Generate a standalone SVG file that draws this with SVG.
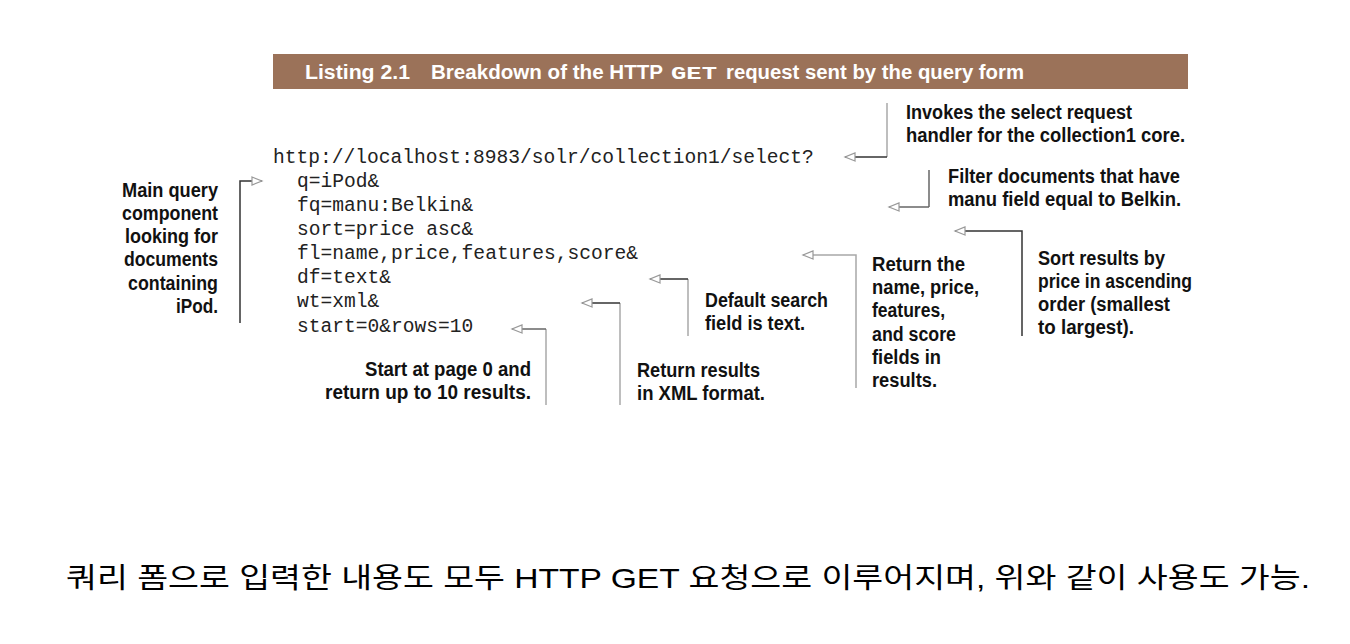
<svg xmlns="http://www.w3.org/2000/svg" width="1350" height="644" viewBox="0 0 1350 644">
<defs>
<style>
.code{font-family:"Liberation Mono","Courier New",monospace;font-size:19.6px;fill:#222;}
.lbl{font-family:"Liberation Sans",Arial,sans-serif;font-weight:bold;font-size:20px;fill:#111;}
.hdr{font-family:"Liberation Sans",Arial,sans-serif;font-weight:bold;font-size:20px;fill:#fff;}
.hdrm{font-family:"Liberation Mono","Courier New",monospace;font-weight:bold;font-size:19px;fill:#fff;}
.dk{stroke:#333;stroke-width:1.5;fill:none;}
.lt{stroke:#a8a8a8;stroke-width:1.5;fill:none;}
.md{stroke:#666;stroke-width:1.5;fill:none;}
.cap{font-family:"Liberation Sans","Noto Sans CJK KR",sans-serif;font-size:28px;fill:#000;}
</style>
<marker id="ah" markerUnits="userSpaceOnUse" markerWidth="14" markerHeight="12" refX="11" refY="5" orient="auto" viewBox="0 0 14 12">
<path d="M1,1 L11,5 L1,9 Z" fill="#fff" stroke="#999" stroke-width="1.2"/>
</marker>
</defs>
<rect width="1350" height="644" fill="#fff"/>

<g id="header">
<rect x="273" y="54" width="915" height="35" fill="#9b7259"/>
<text class="hdr" x="305" y="79" textLength="105" lengthAdjust="spacingAndGlyphs">Listing 2.1</text>
<text class="hdr" x="431" y="79" textLength="232" lengthAdjust="spacingAndGlyphs">Breakdown of the HTTP</text>
<text class="hdrm" x="671" y="79" textLength="46" lengthAdjust="spacingAndGlyphs">GET</text>
<text class="hdr" x="726" y="79" textLength="298" lengthAdjust="spacingAndGlyphs">request sent by the query form</text>
</g>

<g id="code">
<text class="code" x="273" y="163">http://localhost:8983/solr/collection1/select?</text>
<text class="code" x="297" y="187">q=iPod&amp;</text>
<text class="code" x="297" y="211">fq=manu:Belkin&amp;</text>
<text class="code" x="297" y="235">sort=price asc&amp;</text>
<text class="code" x="297" y="259">fl=name,price,features,score&amp;</text>
<text class="code" x="297" y="283">df=text&amp;</text>
<text class="code" x="297" y="307">wt=xml&amp;</text>
<text class="code" x="297" y="332">start=0&amp;rows=10</text>
</g>

<g id="connectors">
<!-- main query -->
<path class="dk" d="M240,323 V181 H262" marker-end="url(#ah)"/>
<!-- invokes -->
<path class="lt" d="M887,103 V157"/>
<path class="dk" d="M887,157 H845" marker-end="url(#ah)"/>
<!-- filter -->
<path class="md" d="M929,170 V207"/>
<path class="md" d="M929,207 H889" marker-end="url(#ah)"/>
<!-- sort -->
<path class="dk" d="M1022,336 V231 H955" marker-end="url(#ah)"/>
<!-- fl -->
<path class="lt" d="M856,388 V255 H803" marker-end="url(#ah)"/>
<!-- df -->
<path class="lt" d="M688,336 V279"/>
<path class="dk" d="M688,279 H650" marker-end="url(#ah)"/>
<!-- wt -->
<path class="lt" d="M620,405 V303"/>
<path class="dk" d="M620,303 H582" marker-end="url(#ah)"/>
<!-- start -->
<path class="lt" d="M546,405 V329"/>
<path class="md" d="M546,329 H512" marker-end="url(#ah)"/>
</g>

<g id="n-invokes">
<text class="lbl" x="906" y="119" textLength="226" lengthAdjust="spacingAndGlyphs">Invokes the select request</text>
<text class="lbl" x="906" y="142" textLength="279" lengthAdjust="spacingAndGlyphs">handler for the collection1 core.</text>
</g>
<g id="n-filter">
<text class="lbl" x="948" y="183" textLength="232" lengthAdjust="spacingAndGlyphs">Filter documents that have</text>
<text class="lbl" x="948" y="206" textLength="233" lengthAdjust="spacingAndGlyphs">manu field equal to Belkin.</text>
</g>
<g id="n-sort">
<text class="lbl" x="1038" y="265" textLength="127" lengthAdjust="spacingAndGlyphs">Sort results by</text>
<text class="lbl" x="1038" y="288" textLength="154" lengthAdjust="spacingAndGlyphs">price in ascending</text>
<text class="lbl" x="1038" y="311" textLength="132" lengthAdjust="spacingAndGlyphs">order (smallest</text>
<text class="lbl" x="1038" y="334" textLength="96" lengthAdjust="spacingAndGlyphs">to largest).</text>
</g>
<g id="n-fl">
<text class="lbl" x="872" y="271" textLength="93" lengthAdjust="spacingAndGlyphs">Return the</text>
<text class="lbl" x="872" y="294" textLength="107" lengthAdjust="spacingAndGlyphs">name, price,</text>
<text class="lbl" x="872" y="317" textLength="73" lengthAdjust="spacingAndGlyphs">features,</text>
<text class="lbl" x="872" y="341" textLength="84" lengthAdjust="spacingAndGlyphs">and score</text>
<text class="lbl" x="872" y="364" textLength="69" lengthAdjust="spacingAndGlyphs">fields in</text>
<text class="lbl" x="872" y="387" textLength="65" lengthAdjust="spacingAndGlyphs">results.</text>
</g>
<g id="n-df">
<text class="lbl" x="705" y="307" textLength="123" lengthAdjust="spacingAndGlyphs">Default search</text>
<text class="lbl" x="705" y="330" textLength="100" lengthAdjust="spacingAndGlyphs">field is text.</text>
</g>
<g id="n-wt">
<text class="lbl" x="637" y="377" textLength="123" lengthAdjust="spacingAndGlyphs">Return results</text>
<text class="lbl" x="637" y="400" textLength="128" lengthAdjust="spacingAndGlyphs">in XML format.</text>
</g>
<g id="n-start">
<text class="lbl" x="365" y="376" textLength="166" lengthAdjust="spacingAndGlyphs">Start at page 0 and</text>
<text class="lbl" x="325" y="399" textLength="206" lengthAdjust="spacingAndGlyphs">return up to 10 results.</text>
</g>
<g id="n-main">
<text class="lbl" x="122" y="197" textLength="96" lengthAdjust="spacingAndGlyphs">Main query</text>
<text class="lbl" x="122" y="220" textLength="96" lengthAdjust="spacingAndGlyphs">component</text>
<text class="lbl" x="125" y="243" textLength="93" lengthAdjust="spacingAndGlyphs">looking for</text>
<text class="lbl" x="124" y="266" textLength="94" lengthAdjust="spacingAndGlyphs">documents</text>
<text class="lbl" x="128" y="290" textLength="90" lengthAdjust="spacingAndGlyphs">containing</text>
<text class="lbl" x="176" y="313" textLength="42" lengthAdjust="spacingAndGlyphs">iPod.</text>
</g>

<g id="caption">
<text class="cap" x="66" y="588" textLength="1244" lengthAdjust="spacingAndGlyphs">쿼리 폼으로 입력한 내용도 모두 HTTP GET 요청으로 이루어지며, 위와 같이 사용도 가능.</text>
</g>
</svg>
